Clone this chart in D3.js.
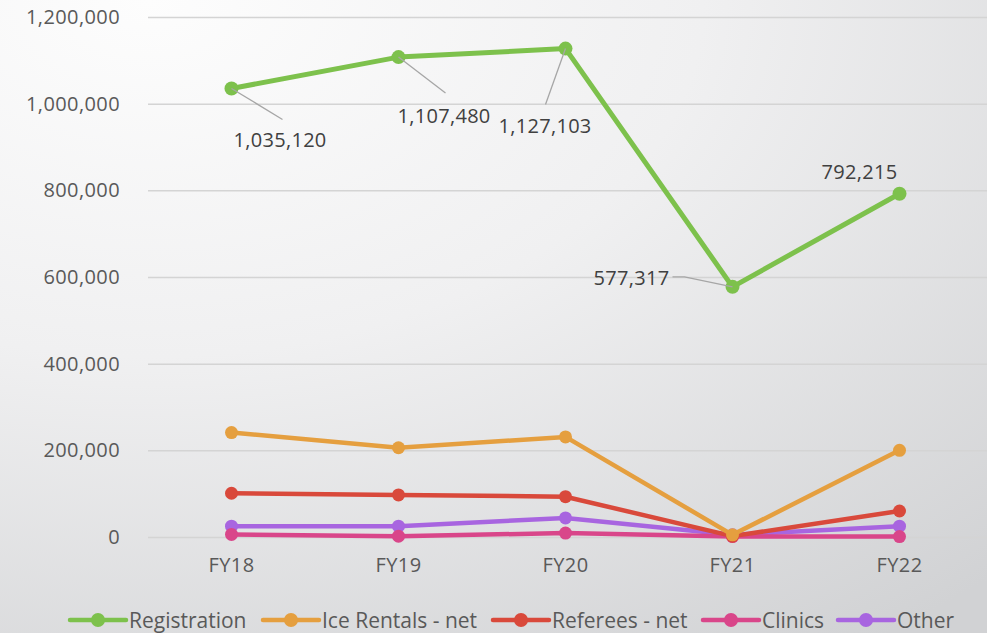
<!DOCTYPE html>
<html lang="en">
<head>
<meta charset="UTF-8">
<script src="https://cdn.jsdelivr.net/npm/d3@7"></script>
<title>Revenue by year</title>
<style>
  body { margin: 0; overflow: hidden; }
  text { font-family: "Open Sans", sans-serif; }
</style>
</head>
<body>
<svg id="chart" width="987" height="633"></svg>
<script>
  // data
  const years = ["FY18", "FY19", "FY20", "FY21", "FY22"];
  const registration = [1035120, 1107480, 1127103, 577317, 792215];
  const iceRentals = [241000, 206000, 231000, 5000, 200000];
  const referees = [101000, 97000, 93000, 2000, 60000];
  const clinics = [6000, 2000, 9000, 1000, 1000];
  const other = [25000, 25000, 44000, 5000, 25000];
  const yTicks = [0, 200000, 400000, 600000, 800000, 1000000, 1200000];

  const series = [
    { name: "Registration", values: registration, color: "#7dc14c", w: 5, r: 7 },
    { name: "Ice Rentals - net", values: iceRentals, color: "#e59f3f", w: 4.5, r: 6.5 },
    { name: "Referees - net", values: referees, color: "#d9493b", w: 4.5, r: 6.5 },
    { name: "Clinics", values: clinics, color: "#d9468a", w: 4.5, r: 6.5 },
    { name: "Other", values: other, color: "#a865e0", w: 4.5, r: 6.5 }
  ];

  let svg = d3.select("#chart");

  /* BACKGROUND */
  let defs = svg.append("defs");
  let grad = defs.append("radialGradient").attr("id", "bg")
    .attr("cx", "0.15").attr("cy", "0").attr("r", "1.25")
  grad.append("stop").attr("offset", "0").attr("stop-color", "#fdfdfd")
  grad.append("stop").attr("offset", "0.45").attr("stop-color", "#f0f0f1")
  grad.append("stop").attr("offset", "1").attr("stop-color", "#d1d2d4")
  svg.append("rect").attr("width", 987).attr("height", 633).attr("fill", "url(#bg)")

  /* SCALES */
  let scaleX = d3.scaleBand().domain(years).range([148, 983]);
  let scaleY = d3.scaleLinear().domain([0, 1200000]).range([537, 17]);
  let cx = d => scaleX(d) + scaleX.bandwidth() / 2;

  /* GRID + AXES */
  let axisY = d3.axisLeft(scaleY).tickValues(yTicks)
    .tickSize(-(983 - 148) - 4).tickPadding(28).tickFormat(d3.format(","));
  let gy = svg.append("g").attr("transform", "translate(148,0)").call(axisY);
  gy.select(".domain").remove();
  gy.selectAll(".tick line").attr("stroke", "#d4d4d4").attr("stroke-width", 1.5);
  gy.selectAll(".tick text").attr("fill", "#595959").style("font-size", "20px")
    .style("letter-spacing", "0.4px");

  let axisX = d3.axisBottom(scaleX).tickSize(0).tickPadding(21);
  let gx = svg.append("g").attr("transform", "translate(0,537)").call(axisX);
  gx.select(".domain").remove();
  gx.selectAll(".tick text").attr("fill", "#595959").style("font-size", "20px")
    .style("letter-spacing", "0.4px");

  /* LINES */
  let line = d3.line().x((v, i) => cx(years[i])).y(v => scaleY(v));
  let plot = svg.append("g");
  series.slice().reverse().forEach(s => {
    plot.append("path").attr("d", line(s.values)).attr("fill", "none")
      .attr("stroke", s.color).attr("stroke-width", s.w).attr("stroke-linejoin", "round");
    plot.selectAll(null).data(s.values).enter().append("circle")
      .attr("cx", (v, i) => cx(years[i])).attr("cy", v => scaleY(v))
      .attr("r", s.r).attr("fill", s.color);
  });

  /* DATA LABELS (registration only) */
  // [text dx, baseline dy, leader end dx, leader end dy]
  const labelOffsets = [[2, 59, 51, 31], [-1, 66, 47, 36], [-67, 84, -20, 56], [-139, -2, -60, -10], [-78, -15, null, null]];
  let lab = svg.append("g");
  registration.forEach((v, i) => {
    let x = cx(years[i]), y = scaleY(v);
    let o = labelOffsets[i];
    if (o[2] !== null) {
      if (i === 3) {
        lab.append("polyline").attr("points", `${x + o[2]},${y + o[3]} ${x - 48},${y - 10} ${x},${y}`)
          .attr("fill", "none").attr("stroke", "#a6a6a6").attr("stroke-width", 1.3);
      } else {
        lab.append("line").attr("x1", x).attr("y1", y).attr("x2", x + o[2]).attr("y2", y + o[3])
          .attr("stroke", "#a6a6a6").attr("stroke-width", 1.3);
      }
    }
    lab.append("text").attr("x", x + o[0]).attr("y", y + o[1])
      .text(d3.format(",")(v)).attr("fill", "#404040").style("font-size", "20px")
      .style("letter-spacing", "0.3px");
  });

  /* LEGEND */
  const legendX = [70, 263, 493, 703, 838];
  let legend = svg.append("g").attr("transform", "translate(0,620)");
  series.forEach((s, i) => {
    let g = legend.append("g").attr("transform", `translate(${legendX[i]},0)`);
    g.append("line").attr("x1", 0).attr("x2", 56).attr("stroke", s.color)
      .attr("stroke-width", 4.5).attr("stroke-linecap", "round");
    g.append("circle").attr("cx", 28).attr("r", 7).attr("fill", s.color);
    g.append("text").attr("x", 59).attr("y", 8).text(s.name)
      .attr("fill", "#595959").style("font-size", "21px");
  });
</script>
</body>
</html>
